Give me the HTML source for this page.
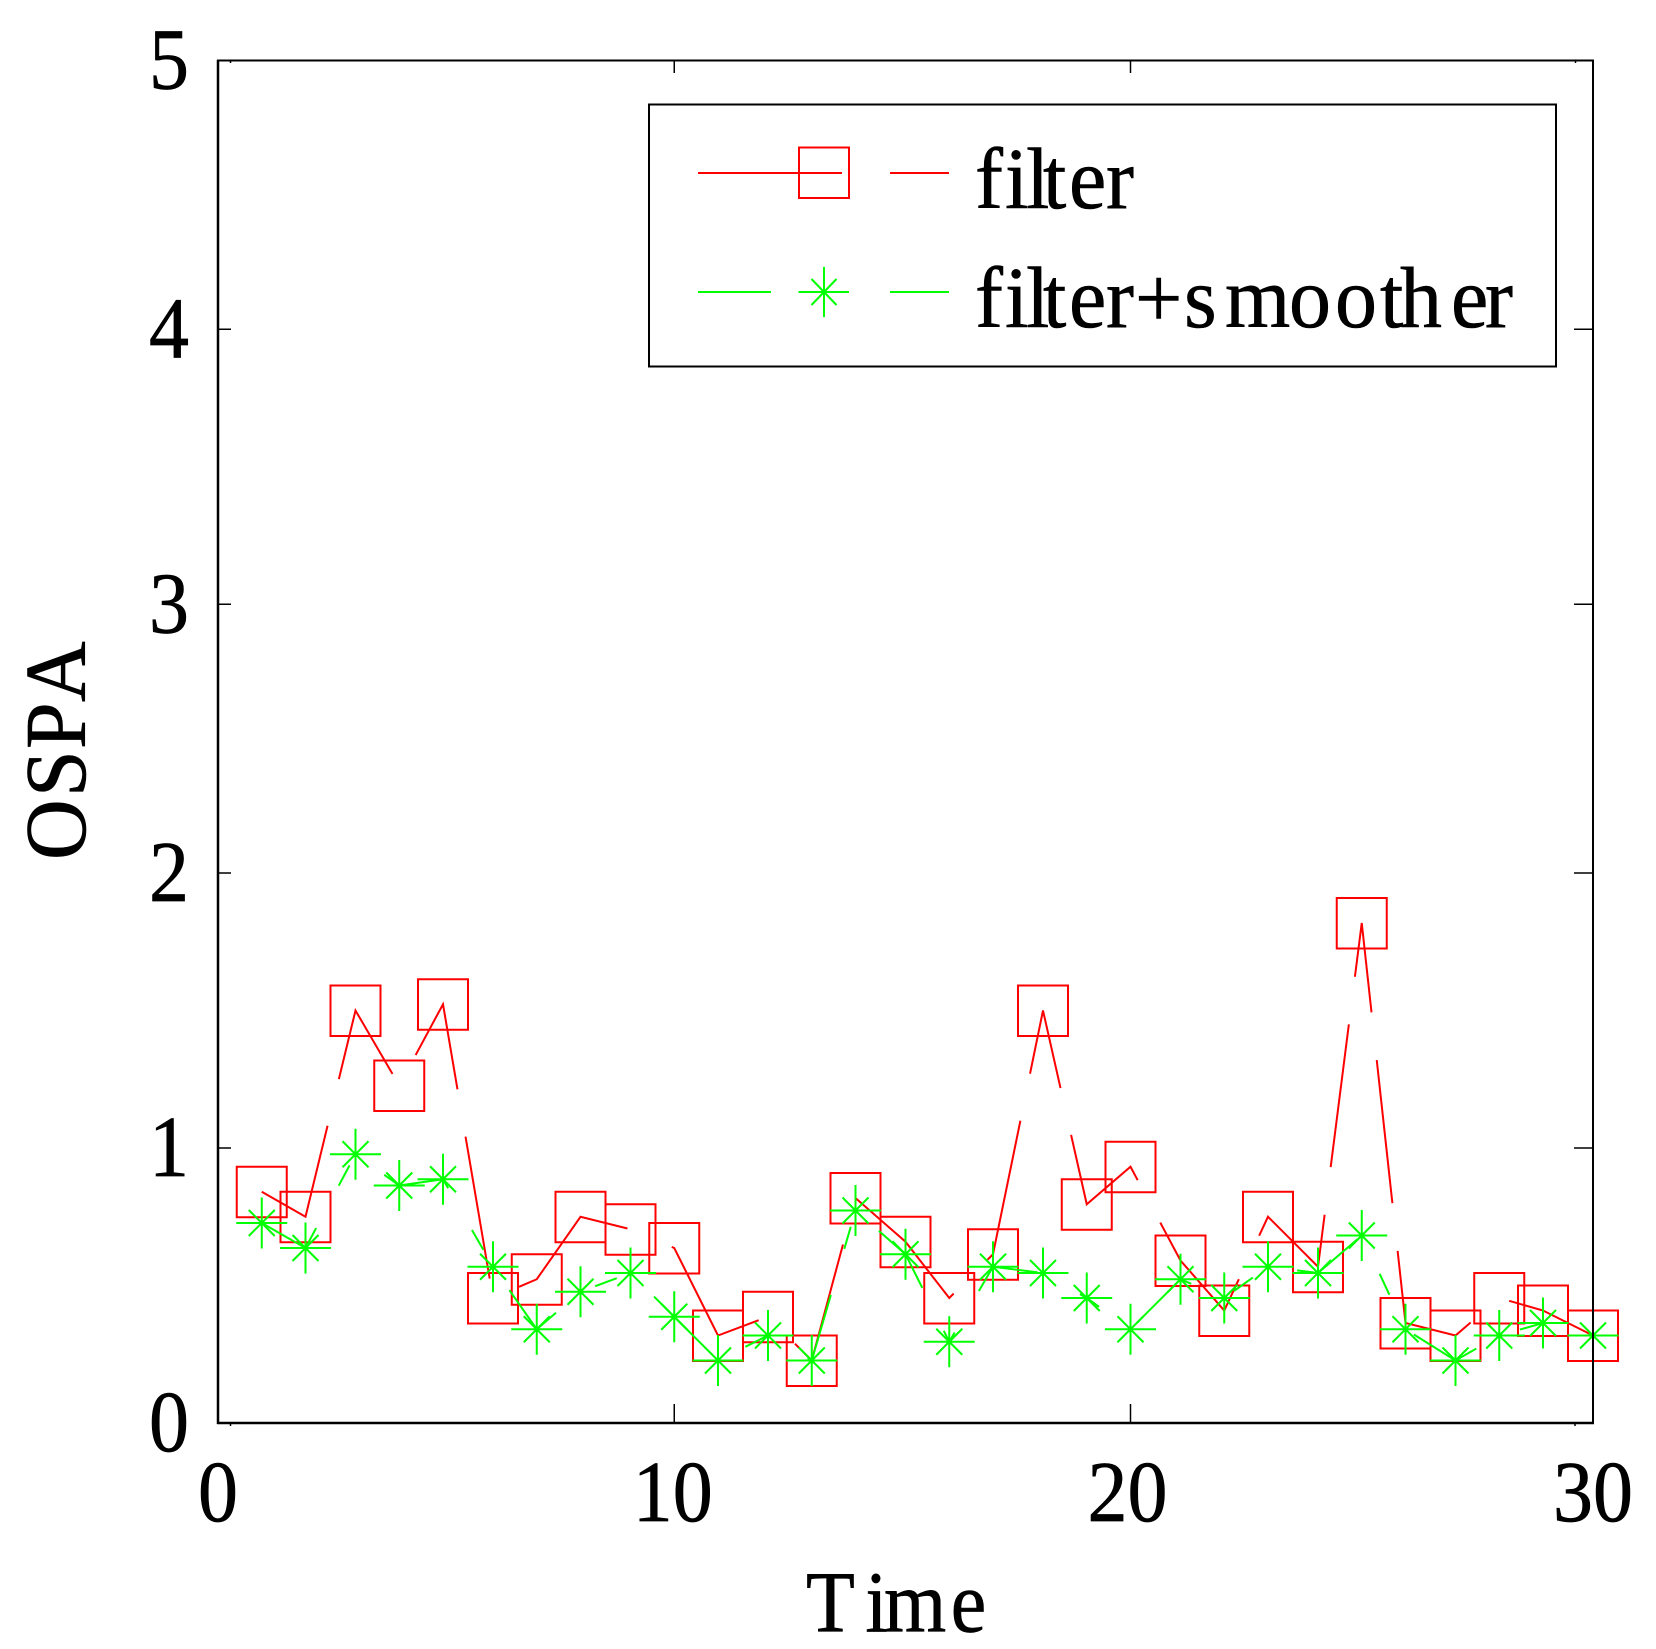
<!DOCTYPE html>
<html lang="en">
<head>
<meta charset="utf-8">
<title>OSPA over time</title>
<style>
html,body{margin:0;padding:0;background:#fff;}
svg{display:block;}
text{font-family:"Liberation Serif",serif;fill:#000;stroke:#000;stroke-width:.6px;font-size:80px;font-variant-ligatures:none;font-kerning:none;}
text.wide{font-size:84px;}
</style>
</head>
<body>
<svg id="chart" xmlns="http://www.w3.org/2000/svg" width="1656" height="1649" viewBox="0 0 1656 1649">
  <rect x="0" y="0" width="1656" height="1649" fill="#fff"/>
  <g id="ticks"></g>
  <g id="labels"></g>
  <g id="series"></g>
  <rect x="218" y="60.5" width="1375" height="1362.5" fill="none" stroke="#000" stroke-width="2"/>
  <line x1="218" y1="60" x2="218" y2="1424" stroke="#000" stroke-width="2.5"/>
  <line x1="217" y1="1423" x2="1594" y2="1423" stroke="#000" stroke-width="2.5"/>
  <g stroke="#000" stroke-width="1.5">
    <line x1="230.5" y1="60" x2="230.5" y2="63"/>
    <line x1="1575.5" y1="60" x2="1575.5" y2="63"/>
    <line x1="230.5" y1="1423" x2="230.5" y2="1426"/>
    <line x1="1575" y1="1423" x2="1575" y2="1426"/>
  </g>
  <text transform="translate(806,1631.5) scale(1,1.09)" x="0 59.4 78 144.7">Time</text>
  <text class="wide" transform="translate(85,860) rotate(-90) scale(1,1.04)" x="0 63 111 158">OSPA</text>
  <g>
    <rect x="649" y="104.5" width="907" height="262" fill="#fff" stroke="#000" stroke-width="2"/>
    <g>
      <line x1="698" y1="173" x2="949" y2="173" stroke="#f00" stroke-width="2" stroke-dasharray="144 48"/>
      <rect x="799" y="147.5" width="50" height="50.5" fill="none" stroke="#f00" stroke-width="2"/>
      <text class="wide" transform="translate(975,208) scale(1,1.04)" x="0 30 51 68 94 131">filter</text>
    </g>
    <g>
      <line x1="698" y1="292" x2="949" y2="292" stroke="#0f0" stroke-width="2" stroke-dasharray="73 48 23 48"/>
      <g stroke="#0f0" stroke-width="2">
        <line x1="798.5" y1="292" x2="849" y2="292"/>
        <line x1="824" y1="267" x2="824" y2="317"/>
        <line x1="811.5" y1="279" x2="836.5" y2="305"/>
        <line x1="811.5" y1="305" x2="836.5" y2="279"/>
      </g>
      <text class="wide" transform="translate(975,327) scale(1,1.04)" x="0 30 51 68 94 131 160 209 250 314 360 405 425 476 510">filter+smoother</text>
    </g>
  </g>
</svg>
<script>
const times = [1,2,3,4,5,6,7,8,9,10,11,12,13,14,15,16,17,18,19,20,21,22,23,24,25,26,27,28,29,30];
const filterValues = [0.85,0.757,1.514,1.239,1.537,0.459,0.528,0.757,0.711,0.642,0.321,0.39,0.229,0.826,0.665,0.459,0.619,1.514,0.803,0.94,0.596,0.413,0.757,0.573,1.835,0.367,0.321,0.459,0.413,0.321];
const smootherValues = [0.734,0.642,0.986,0.872,0.894,0.573,0.344,0.482,0.55,0.39,0.229,0.321,0.229,0.78,0.619,0.298,0.573,0.55,0.459,0.344,0.528,0.459,0.573,0.55,0.688,0.344,0.229,0.321,0.367,0.321];
const xTickValues = [0,10,20,30];
const yTickValues = [0,1,2,3,4,5];
const xTickLabels = ["0","10","20","30"];
const yTickLabels = ["0","1","2","3","4","5"];

const NS = "http://www.w3.org/2000/svg";
const GRID = 6.25;
function xScale(t){ return 218 + Math.floor(t * 22 / 3 + 0.01) * GRID; }
function yScale(v){ return 1423 - Math.round(v * 43.75) * GRID; }
function make(tag, attrs, parent){
  const el = document.createElementNS(NS, tag);
  for (const k in attrs) el.setAttribute(k, attrs[k]);
  parent.appendChild(el);
  return el;
}
const ticks = document.getElementById("ticks");
const labels = document.getElementById("labels");
const series = document.getElementById("series");

xTickValues.forEach(function(t, i){
  const x = xScale(t);
  if (t > 0 && t < 30) {
    const b = make("line", {x1:x, y1:1423, x2:x, y2:1404, stroke:"#000", "stroke-width":1.5}, ticks);
    
    
    const a = make("line", {x1:x, y1:60.5, x2:x, y2:73, stroke:"#000", "stroke-width":1.5}, ticks);
    
    
  }
  const shift = t === 20 ? -3 : (t === 10 ? -1.5 : 0);
  const lab = make("text", {transform:"translate(" + (x + shift) + ",1521) scale(1,1.09)", "text-anchor":"middle"}, labels);
  
  
  lab.textContent = xTickLabels[i];
});
yTickValues.forEach(function(v, i){
  const y = v === 5 ? 60.5 : yScale(v);
  if (v > 0 && v < 5) {
    const l = make("line", {x1:218, y1:y, x2:231, y2:y, stroke:"#000", "stroke-width":1.5}, ticks);
    
    
    const r = make("line", {x1:1593, y1:y, x2:1574, y2:y, stroke:"#000", "stroke-width":1.5}, ticks);
    
    
  }
  const lab = make("text", {transform:"translate(169," + (y + 28) + ") scale(1,1.09)", "text-anchor":"middle"}, labels);
  
  
  lab.textContent = yTickLabels[i];
});

function pointsOf(values){
  return values.map(function(v, i){ return xScale(times[i]) + "," + yScale(v); }).join(" ");
}

filterValues.forEach(function(v, i){
  const box = make("rect", {x:xScale(times[i]) - 25, y:yScale(v) - 25, width:50, height:50.5, fill:"none", stroke:"#f00", "stroke-width":2}, series);
  
  
});
const filterLine = make("polyline", {points:pointsOf(filterValues), fill:"none", stroke:"#f00", "stroke-width":2, "stroke-dasharray":"144 48"}, series);



const smootherLine = make("polyline", {points:pointsOf(smootherValues), fill:"none", stroke:"#0f0", "stroke-width":2, "stroke-dasharray":"73 48 23 48"}, series);



smootherValues.forEach(function(v, i){
  const cx = xScale(times[i]);
  const cy = yScale(v);
  const d = "M" + (cx - 25.5) + " " + cy + "H" + (cx + 25.5) +
            "M" + cx + " " + (cy - 25.5) + "V" + (cy + 25.5) +
            "M" + (cx - 13) + " " + (cy - 13) + "L" + (cx + 13) + " " + (cy + 13) +
            "M" + (cx - 13) + " " + (cy + 13) + "L" + (cx + 13) + " " + (cy - 13);
  const star = make("path", {d:d, fill:"none", stroke:"#0f0", "stroke-width":2}, series);
  
  
});
</script>
</body>
</html>
